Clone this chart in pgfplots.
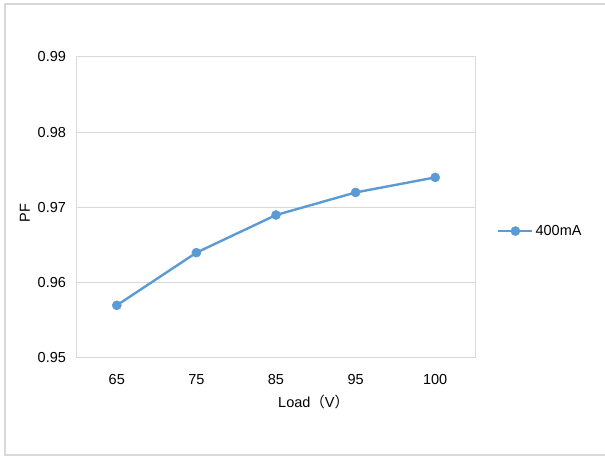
\documentclass[border=0pt]{standalone}
\usepackage{fontspec}
\setmainfont{Liberation Sans}
\newfontfamily\cjk{Noto Sans CJK SC}
\usepackage{pgfplots}
\pgfplotsset{compat=1.18}
\definecolor{serblue}{RGB}{91,155,213}
\definecolor{gridgray}{RGB}{217,217,217}
\begin{document}
\fontsize{14.5bp}{16bp}\selectfont
\begin{tikzpicture}
\useasboundingbox (0,0) rectangle (605bp,457bp);
\draw[gridgray, line width=1.2bp] (5bp,2bp) rectangle (640bp,453bp);
\begin{axis}[
  at={(77bp,99bp)}, anchor=south west,
  scale only axis, width=398bp, height=301bp,
  xmin=-0.5, xmax=4.5, ymin=0.95, ymax=0.99,
  xtick={0,1,2,3,4}, xticklabels={65,75,85,95,100},
  ytick={0.95,0.96,0.97,0.98,0.99},
  /pgf/number format/assume math mode=true,
  yticklabel style={/pgf/number format/fixed, /pgf/number format/fixed zerofill, /pgf/number format/precision=2, xshift=-6bp},
  ticklabel style={font=\fontsize{14.5bp}{16bp}\selectfont},
  xticklabel style={yshift=-11bp},
  axis line style={gridgray, line width=1bp},
  tick style={draw=none},
  ymajorgrids, grid style={gridgray, line width=1bp},
  legend style={at={(rel axis cs:1,0.425)}, anchor=west, xshift=22bp, yshift=-1bp, draw=none, fill=none,
    font=\fontsize{14.5bp}{16bp}\selectfont, inner sep=0pt},
  legend image code/.code={\draw[#1, mark repeat=2, mark phase=2] plot coordinates {(0bp,0bp)(17bp,0bp)(34bp,0bp)};},
]
\addplot[serblue, line width=2.4bp, mark=*, mark size=4.6pt, mark options={solid, fill=serblue, draw=serblue, line width=0.4pt}]
  coordinates {(0,0.957) (1,0.964) (2,0.969) (3,0.972) (4,0.974)};
\addlegendentry{400mA}
\end{axis}
\node[rotate=90] at (25bp,244bp) {PF};
\node[anchor=west, inner sep=0pt] at (278bp,55bp) {Load{\cjk （}V{\cjk ）}};
\end{tikzpicture}
\end{document}
